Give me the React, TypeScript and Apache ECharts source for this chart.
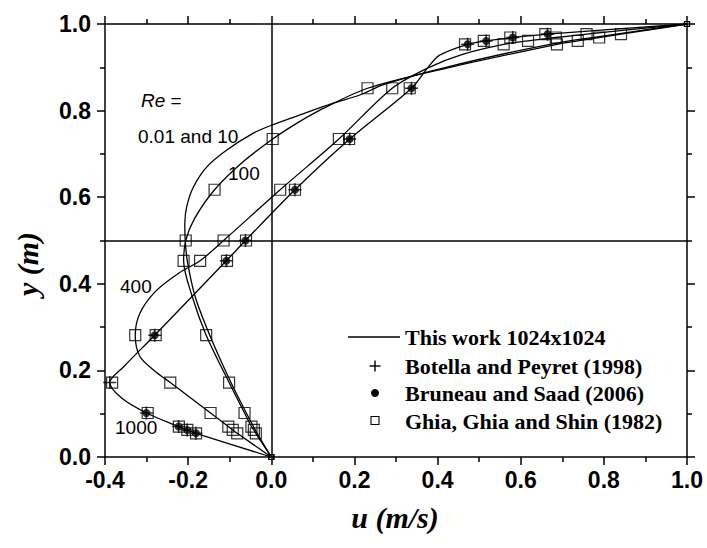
import React, { useEffect, useRef } from "react";
import * as echarts from "echarts";

// ---- Data ----
// Ghia, Ghia & Shin (1982) vertical centreline positions
const yGhia = [1.0, 0.9766, 0.9688, 0.9609, 0.9531, 0.8516, 0.7344, 0.6172, 0.5, 0.4531, 0.2813, 0.1719, 0.1016, 0.0703, 0.0625, 0.0547, 0.0];
const uGhia100 = [1.0, 0.84123, 0.78871, 0.73722, 0.68717, 0.23151, 0.00332, -0.13641, -0.20581, -0.2109, -0.15662, -0.1015, -0.06434, -0.04775, -0.04192, -0.03717, 0.0];
const uGhia400 = [1.0, 0.75837, 0.68439, 0.61756, 0.55892, 0.29093, 0.16256, 0.02135, -0.11477, -0.17119, -0.32726, -0.24299, -0.14612, -0.10338, -0.09266, -0.08186, 0.0];
const uGhia1000 = [1.0, 0.65928, 0.57492, 0.51117, 0.46604, 0.33304, 0.18719, 0.05702, -0.0608, -0.10648, -0.27805, -0.38289, -0.2973, -0.2222, -0.20196, -0.18109, 0.0];

// Botella & Peyret (1998), Re = 1000
const yBotella = [0.9766, 0.9688, 0.9609, 0.9531, 0.8516, 0.7344, 0.6172, 0.5, 0.4531, 0.2813, 0.1719, 0.1016, 0.0703, 0.0625, 0.0547];
const uBotella = [0.6644, 0.5808, 0.5169, 0.4723, 0.3372, 0.1887, 0.057, -0.0621, -0.1082, -0.2804, -0.3886, -0.3005, -0.2229, -0.2023, -0.1813];

// Bruneau & Saad (2006), Re = 1000
const yBruneau = [0.9766, 0.9688, 0.9609, 0.9531, 0.8516, 0.7344, 0.6172, 0.5, 0.4531, 0.2813, 0.1016, 0.0703, 0.0625, 0.0547];
const uBruneau = [0.6644, 0.5808, 0.5169, 0.4723, 0.3372, 0.1886, 0.057, -0.062, -0.1081, -0.2803, -0.3004, -0.2228, -0.2023, -0.1812];

// This work 1024x1024 profiles
const yStokes = [0, 0.0547, 0.1016, 0.1719, 0.2813, 0.37, 0.4531, 0.5, 0.54, 0.58, 0.624, 0.67, 0.709, 0.748, 0.766, 0.79, 0.817, 0.836, 0.86, 0.9, 0.9531, 0.9766, 1.0];
const uStokes = [0, -0.034, -0.06, -0.097, -0.148, -0.183, -0.202, -0.207, -0.208, -0.203, -0.187, -0.155, -0.107, -0.043, 0, 0.069, 0.149, 0.213, 0.27, 0.42, 0.67, 0.83, 1.0];

const y100 = [0, 0.0547, 0.0625, 0.0703, 0.1016, 0.1719, 0.2813, 0.37, 0.4531, 0.5, 0.55, 0.6172, 0.68, 0.7344, 0.77, 0.8, 0.8516, 0.9, 0.9531, 0.9609, 0.9688, 0.9766, 1.0];
const u100 = [0, -0.0372, -0.0419, -0.0478, -0.0643, -0.1015, -0.1566, -0.19, -0.2109, -0.2058, -0.185, -0.1364, -0.07, 0.0033, 0.06, 0.115, 0.2315, 0.43, 0.6872, 0.7372, 0.7887, 0.8412, 1.0];

const y400 = [0, 0.0547, 0.0625, 0.0703, 0.1016, 0.1719, 0.2, 0.232, 0.2813, 0.332, 0.382, 0.425, 0.4531, 0.5, 0.6172, 0.7344, 0.8516, 0.9, 0.93, 0.9531, 0.9609, 0.9688, 0.9766, 1.0];
const u400 = [0, -0.0819, -0.0927, -0.1034, -0.1461, -0.243, -0.282, -0.316, -0.3273, -0.316, -0.279, -0.222, -0.1712, -0.1148, 0.0214, 0.1626, 0.2909, 0.38, 0.46, 0.5589, 0.6176, 0.6844, 0.7584, 1.0];

const y1000 = [0, 0.0547, 0.0625, 0.0703, 0.1016, 0.136, 0.1719, 0.2085, 0.2813, 0.4531, 0.5, 0.6172, 0.7344, 0.8516, 0.9, 0.928, 0.9531, 0.9609, 0.9688, 0.9766, 1.0];
const u1000 = [0, -0.1813, -0.2023, -0.2229, -0.3005, -0.36, -0.3886, -0.355, -0.2804, -0.1082, -0.0621, 0.057, 0.1887, 0.3372, 0.377, 0.405, 0.4723, 0.5169, 0.5808, 0.6644, 1.0];

const xTickMin = -0.4;
const xTickMax = 1.0;
const yTickMin = 0.0;
const yTickMax = 1.0;

const legendNames = [
  "This work 1024x1024",
  "Botella and Peyret (1998)",
  "Bruneau and Saad (2006)",
  "Ghia, Ghia and Shin (1982)",
];
const reLabels = ["0.01 and 10", "100", "400", "1000"];

const pairs = (u: number[], y: number[]) => u.map((v, i) => [v, y[i]]);

const PLUS = "path://M4.4,0H5.6V4.4H10V5.6H5.6V10H4.4V5.6H0V4.4H4.4Z";
const SANS = "'Liberation Sans', Arial, Helvetica, sans-serif";
const SERIF = "'Liberation Serif', 'Times New Roman', serif";

export default function App() {
  const ref = useRef<HTMLDivElement>(null);
  useEffect(() => {
    if (!ref.current) return;
    const chart = echarts.init(ref.current, null, { renderer: "svg" });
    const axisCommon = {
      type: "value" as const,
      axisLine: { show: true, onZero: false, lineStyle: { color: "#000", width: 1.5 } },
      axisTick: { show: true, inside: false, length: 8, lineStyle: { color: "#000", width: 1.5 } },
      minorTick: { show: true, splitNumber: 2, length: 5, lineStyle: { color: "#000", width: 1.5 } },
      splitLine: { show: false },
      minorSplitLine: { show: false },
    };
    const fmt = (v: number) => (Math.abs(v) < 1e-9 ? 0 : v).toFixed(1);
    const labelStyle = { color: "#000", fontSize: 23, fontWeight: "bold" as const, fontFamily: SANS, formatter: fmt };
    const lineSeries = (data: number[][], extra: any = {}) => ({
      type: "line",
      data,
      showSymbol: false,
      symbol: "none",
      smooth: 0.3,
      lineStyle: { color: "#000", width: 1.3 },
      z: 2,
      silent: true,
      ...extra,
    });
    const option: any = {
      animation: false,
      backgroundColor: "#fff",
      grid: { left: 105, right: 20, top: 24, bottom: 91 },
      xAxis: [
        { ...axisCommon, position: "bottom", min: xTickMin, max: xTickMax, interval: 0.2, axisLabel: { ...labelStyle, margin: 11 } },
        { ...axisCommon, position: "top", min: xTickMin, max: xTickMax, interval: 0.2, axisLabel: { show: false } },
      ],
      yAxis: [
        { ...axisCommon, position: "left", min: yTickMin, max: yTickMax, interval: 0.2, axisLabel: { ...labelStyle, margin: 14 } },
        { ...axisCommon, position: "right", min: yTickMin, max: yTickMax, interval: 0.2, axisLabel: { show: false } },
      ],
      series: [
        lineSeries(pairs(uStokes, yStokes), {
          markLine: {
            silent: true,
            symbol: ["none", "none"],
            label: { show: false },
            lineStyle: { color: "#000", type: "solid", width: 1.5 },
            data: [{ xAxis: 0 }, { yAxis: 0.5 }],
          },
        }),
        lineSeries(pairs(u100, y100)),
        lineSeries(pairs(u400, y400)),
        lineSeries(pairs(u1000, y1000)),
        {
          type: "scatter",
          data: [...pairs(uGhia100, yGhia), ...pairs(uGhia400, yGhia), ...pairs(uGhia1000, yGhia)],
          symbol: "rect",
          symbolSize: (v: number[]) => (v[1] === 1 || v[1] === 0 ? 5 : 11),
          itemStyle: { color: "transparent", borderColor: "#000", borderWidth: 1.2 },
          z: 3,
          silent: true,
        },
        {
          type: "scatter",
          data: pairs(uBruneau, yBruneau),
          symbol: "circle",
          symbolSize: 8,
          itemStyle: { color: "#000" },
          z: 4,
          silent: true,
        },
        {
          type: "scatter",
          data: pairs(uBotella, yBotella),
          symbol: PLUS,
          symbolSize: 13,
          itemStyle: { color: "#000" },
          z: 5,
          silent: true,
        },
      ],
      graphic: [
        // axis titles
        {
          type: "text",
          x: 395,
          y: 517,
          style: { text: "u (m/s)", font: `italic bold 30px ${SERIF}`, fill: "#000", textAlign: "center", textVerticalAlign: "middle" },
        },
        {
          type: "text",
          x: 27,
          y: 264,
          rotation: Math.PI / 2,
          style: { text: "y (m)", font: `italic bold 30px ${SERIF}`, fill: "#000", textAlign: "center", textVerticalAlign: "middle" },
        },
        // Re annotations
        {
          type: "text",
          x: 141,
          y: 100,
          style: {
            text: "{i|Re} =",
            font: `19px ${SANS}`,
            fill: "#000",
            textVerticalAlign: "middle",
            rich: { i: { fontStyle: "italic", fontSize: 19, fontFamily: SANS } },
          },
        },
        { type: "text", x: 138, y: 136, style: { text: reLabels[0], font: `19px ${SANS}`, fill: "#000", textVerticalAlign: "middle" } },
        { type: "text", x: 228, y: 173, style: { text: reLabels[1], font: `19px ${SANS}`, fill: "#000", textVerticalAlign: "middle" } },
        { type: "text", x: 120, y: 286, style: { text: reLabels[2], font: `19px ${SANS}`, fill: "#000", textVerticalAlign: "middle" } },
        { type: "text", x: 115, y: 427, style: { text: reLabels[3], font: `19px ${SANS}`, fill: "#000", textVerticalAlign: "middle" } },
        // legend
        { type: "line", shape: { x1: 348, y1: 337, x2: 400, y2: 337 }, style: { stroke: "#000", lineWidth: 1.3 } },
        { type: "rect", shape: { x: 369.5, y: 365.3, width: 11, height: 1.4 }, style: { fill: "#000" } },
        { type: "rect", shape: { x: 374.3, y: 360.5, width: 1.4, height: 11 }, style: { fill: "#000" } },
        { type: "circle", shape: { cx: 375, cy: 393, r: 4 }, style: { fill: "#000" } },
        { type: "rect", shape: { x: 371, y: 416.5, width: 8, height: 8 }, style: { fill: "#fff", stroke: "#000", lineWidth: 1.1 } },
        ...legendNames.map((t, i) => ({
          type: "text",
          x: 405,
          y: [337, 366, 393, 421][i],
          style: { text: t, font: `bold 22px ${SERIF}`, fill: "#000", textVerticalAlign: "middle" },
        })),
      ],
    };
    chart.setOption(option);
    return () => chart.dispose();
  }, []);
  return (
    <div
      ref={ref}
      style={{ position: "fixed", left: 0, top: 0, width: 707, height: 548, background: "#fff" }}
    />
  );
}
